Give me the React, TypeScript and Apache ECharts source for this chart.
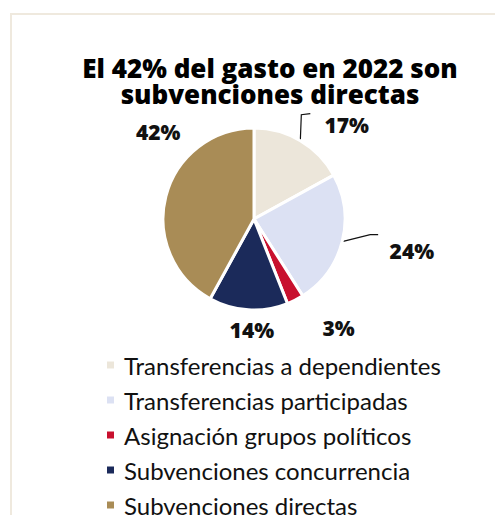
import React, { useEffect, useRef } from "react";
import * as echarts from "echarts";

const categories = [
  "Transferencias a dependientes",
  "Transferencias participadas",
  "Asignación grupos políticos",
  "Subvenciones concurrencia",
  "Subvenciones directas",
];
const values = [17, 24, 3, 14, 42];
const colors = ["#ece6da", "#dce1f3", "#c8102e", "#1b2a5a", "#a98c56"];
const showLine = [true, true, false, false, false];
const titleText = "El 42% del gasto en 2022 son\nsubvenciones directas";

// label nudges relative to the default outside placement
const labelDx = [0, 15, 4, 42, 47];
const labelDy = [0, 5, 12, 2, -60];

export default function App() {
  const ref = useRef<HTMLDivElement>(null);
  useEffect(() => {
    document.body.style.margin = "0";
    document.body.style.overflow = "hidden";
    const chart = echarts.init(ref.current!, null, { renderer: "svg" });
    chart.setOption({
      animation: false,
      backgroundColor: "#ffffff",
      title: {
        text: titleText,
        left: 270,
        top: 55,
        padding: 0,
        textAlign: "center",
        textStyle: {
          fontFamily: "Open Sans",
          fontWeight: 800,
          fontSize: 26,
          lineHeight: 26,
          color: "#000",
        },
      },
      legend: {
        orient: "vertical",
        left: 105,
        top: 352,
        padding: 0,
        itemWidth: 9,
        itemHeight: 9,
        itemGap: 9,
        icon: "rect",
        data: categories,
        textStyle: {
          fontFamily: "Lato",
          fontSize: 24,
          lineHeight: 26,
          color: "#111",
          padding: [0, 0, 0, 4],
        },
      },
      graphic: [
        {
          type: "polyline",
          shape: { points: [[11, 540], [11, 14], [495, 14]] },
          style: { stroke: "#efe9de", lineWidth: 2, fill: "none" },
        },
      ],
      series: [
        {
          type: "pie",
          center: [254, 219],
          radius: 91,
          startAngle: 90,
          clockwise: true,
          avoidLabelOverlap: false,
          itemStyle: { borderColor: "#fff", borderWidth: 3 },
          label: {
            show: true,
            position: "outside",
            formatter: "{c}%",
            fontFamily: "Open Sans",
            fontWeight: 800,
            fontSize: 21,
            color: "#111",
          },
          labelLine: { show: true, length: 18, length2: 10, lineStyle: { color: "#111", width: 1.2 } },
          labelLayout: (params: any) => {
            const i = params.dataIndex;
            const res: any = { dx: labelDx[i], dy: labelDy[i] };
            const pts = params.labelLinePoints;
            if (showLine[i] && pts && pts.length) {
              const p = pts[0];
              if (i === 0) {
                res.labelLinePoints = [p, [p[0] + 1, p[1] - 26], [p[0] + 10, p[1] - 27]];
              } else {
                res.labelLinePoints = [p, [p[0] + 28, p[1] - 7], [p[0] + 36, p[1] - 7]];
              }
            }
            return res;
          },
          data: categories.map((name, i) => ({
            name,
            value: values[i],
            itemStyle: { color: colors[i] },
            labelLine: { show: showLine[i] },
          })),
        },
      ],
    });
    return () => chart.dispose();
  }, []);
  return <div ref={ref} style={{ width: 495, height: 540 }} />;
}
